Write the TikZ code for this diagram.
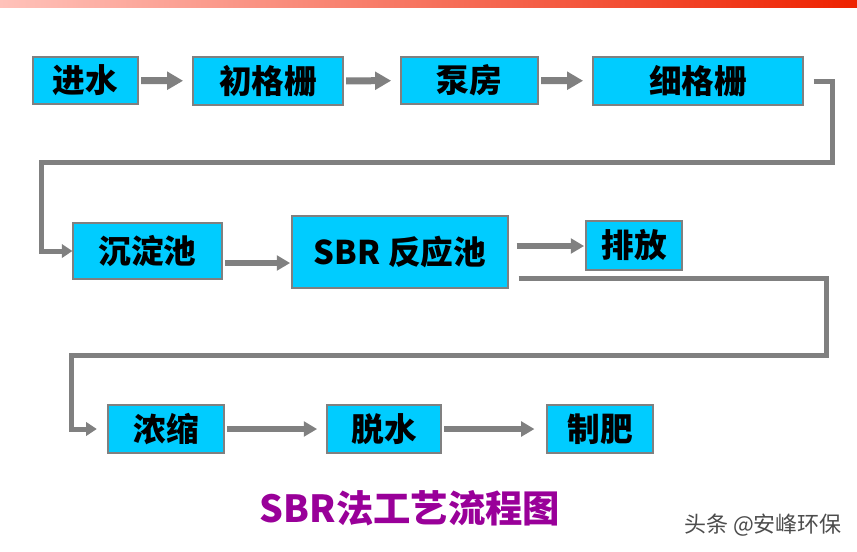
\documentclass[tikz,border=0pt]{standalone}
\usepackage{fontspec}
\newfontfamily\cjk{Noto Sans CJK SC}
\usetikzlibrary{arrows.meta}
\usepackage{xcolor}
\definecolor{boxblue}{RGB}{0,204,255}
\definecolor{titlepurple}{RGB}{153,0,153}
\definecolor{barred}{RGB}{238,34,0}
\definecolor{barpink}{RGB}{255,194,186}
\tikzset{
  box/.style={draw=gray,fill=boxblue,line width=0.8pt,inner sep=0pt,
    font=\cjk\bfseries\fontsize{24.5}{24.5}\selectfont},
  flow/.style={draw=gray,line width=4.5pt,-{Triangle[length=10pt,width=11pt]},
    shorten >=7pt,shorten <=2pt},
  elbow/.style={draw=gray,line width=3.75pt,-{Triangle[length=8pt,width=10pt]}}
}

\begin{document}
\begin{tikzpicture}[x=0.75pt,y=-0.75pt]
  \useasboundingbox (0,0) rectangle (857,551);
  \shade[left color=barpink,right color=barred] (0,0) rectangle (857,7);

  % first row
  \node[box,minimum width=78.75pt,minimum height=35.25pt] (JiSh) at (85.5,80.5) {进水};
  \node[box,minimum width=112.5pt,minimum height=36pt] (ChGe) at (268,81) {初格栅};
  \node[box,minimum width=102.75pt,minimum height=35.25pt] (BeFa) at (469.5,80.5) {泵房};
  \node[box,minimum width=157.5pt,minimum height=36pt] (XiGe) at (698,81) {细格栅};
  \draw[flow,line width=5.25pt,-{Triangle[length=12pt,width=13pt]}] (JiSh) to (ChGe);
  \draw[flow,line width=5.25pt,-{Triangle[length=12pt,width=13pt]}] (ChGe) to (BeFa);
  \draw[flow,line width=5.25pt,-{Triangle[length=12pt,width=13pt]}] (BeFa) to (XiGe);

  % second row
  \node[box,minimum width=111.75pt,minimum height=42pt] (ChDi) at (147.5,251) {沉淀池};
  \node[box,minimum width=162pt,minimum height=54pt] (SBR) at (400,252) {SBR 反应池};
  \node[box,minimum width=72pt,minimum height=36.75pt] (PaFa) at (634,245.5) {排放};
  \draw[flow,shorten >=1pt] (ChDi.east |- 0,263) to (SBR.west |- 0,263);
  \draw[flow,shorten >=1pt,shorten <=6pt] (SBR.east |- 0,246) to (PaFa.west |- 0,246);

  \coordinate (r1) at (832,162);
  \coordinate (l1) at (41,162);
  \draw[elbow,shorten <=7.5pt] (XiGe.east) -| (r1) -- (l1) |- (ChDi.west);

  % third row
  \node[box,minimum width=87pt,minimum height=36pt] (NoSu) at (166,429) {浓缩};
  \node[box,minimum width=85.5pt,minimum height=36pt] (TuSh) at (384,429) {脱水};
  \node[box,minimum width=79.5pt,minimum height=36pt] (ZhFe) at (600,429) {制肥};
  \draw[flow] (NoSu) to (TuSh);
  \draw[flow,shorten >=9pt] (TuSh) to (ZhFe);

  \coordinate (r2) at (826,355);
  \coordinate (l2) at (71,355);
  \draw[elbow,shorten >=8pt] ([xshift=7.5pt,yshift=7.5pt]SBR.south east) -| (r2) -- (l2) |- (NoSu.west);

  % title
  \node[text=titlepurple,font=\cjk\bfseries\fontsize{28}{28}\selectfont] (Ti) at (410,508) {SBR法工艺流程图};
  \node[text=black!70,font=\cjk\fontsize{16.5}{16.5}\selectfont] (Wm) at (763,525) {头条 @安峰环保};
\end{tikzpicture}
\end{document}
